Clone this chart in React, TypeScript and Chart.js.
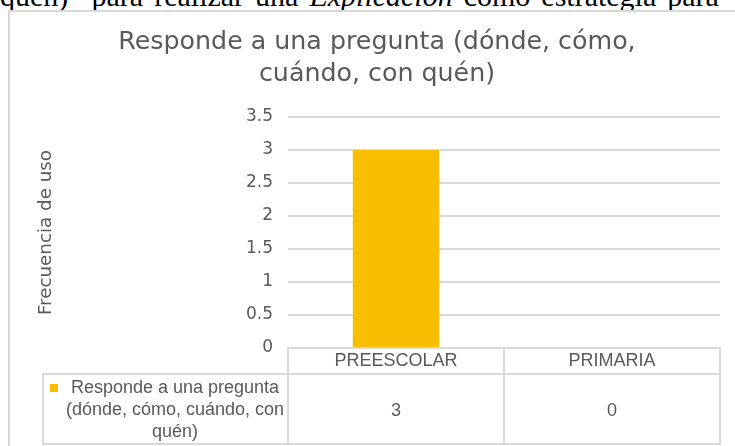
import React, { useEffect, useRef } from 'react';
import { Chart, registerables } from 'chart.js';

Chart.register(...registerables);

// ---- data ----
const categories = ['PREESCOLAR', 'PRIMARIA'];
const seriesName = 'Responde a una pregunta (dónde, cómo, cuándo, con quén)';
const seriesLegendLines = ['Responde a una pregunta', '(dónde, cómo, cuándo, con', 'quén)'];
const values = [3, 0];
const titleLines = ['Responde a una pregunta (dónde, cómo,', 'cuándo, con quén)'];
const yAxisTitle = 'Frecuencia de uso';
const yMin = 0;
const yMax = 3.5;
const yStep = 0.5;

// ---- styles ----
const barColor = '#F9BE00';
const textColor = '#595959';
const gridColor = '#D9D9D9';
const sansFont = '"DejaVu Sans", sans-serif';
const tableFont = '"Liberation Sans", Arial, sans-serif';

const framePlugin = {
  id: 'frame',
  beforeDraw(chart: any) {
    const ctx = chart.ctx;
    ctx.save();
    ctx.fillStyle = '#ffffff';
    ctx.fillRect(8, 10, chart.width, chart.height);
    ctx.fillStyle = gridColor;
    ctx.fillRect(8, 10, chart.width, 2);
    ctx.fillRect(8, 10, 2, chart.height);
    ctx.restore();
  },
};

const tablePlugin = {
  id: 'dataTable',
  afterDraw(chart: any) {
    const { ctx, chartArea } = chart;
    const xs = chart.scales.x;
    const n = categories.length;
    const bounds: number[] = [chartArea.left];
    for (let i = 0; i < n - 1; i++) {
      bounds.push((xs.getPixelForValue(i) + xs.getPixelForValue(i + 1)) / 2);
    }
    bounds.push(chartArea.right);
    const top = chartArea.bottom;
    const headerBottom = top + 26;
    const tableBottom = top + 96;
    const legendLeft = 43;

    ctx.save();
    ctx.strokeStyle = gridColor;
    ctx.lineWidth = 2;
    ctx.lineCap = 'square';
    ctx.beginPath();
    bounds.forEach((b) => {
      ctx.moveTo(b, top);
      ctx.lineTo(b, tableBottom);
    });
    ctx.moveTo(legendLeft, headerBottom);
    ctx.lineTo(legendLeft, tableBottom);
    ctx.moveTo(legendLeft, headerBottom);
    ctx.lineTo(chartArea.right, headerBottom);
    ctx.moveTo(legendLeft, tableBottom);
    ctx.lineTo(chartArea.right, tableBottom);
    ctx.stroke();

    ctx.fillStyle = textColor;
    ctx.font = '18px ' + tableFont;
    ctx.textAlign = 'center';
    ctx.textBaseline = 'middle';
    categories.forEach((c, i) => {
      const cx = xs.getPixelForValue(i);
      ctx.fillText(c, cx, top + 13);
      ctx.fillText(String(values[i]), cx, headerBottom + 37);
    });
    const legendCx = 175;
    seriesLegendLines.forEach((line, i) => {
      ctx.fillText(line, legendCx, headerBottom + 14 + i * 22);
    });
    ctx.fillStyle = barColor;
    ctx.fillRect(50, headerBottom + 10, 8, 8);
    ctx.restore();
  },
};

export default function App() {
  const canvasRef = useRef<HTMLCanvasElement | null>(null);

  useEffect(() => {
    const canvas = canvasRef.current;
    if (!canvas) return;
    const chart = new Chart(canvas, {
      type: 'bar',
      data: {
        labels: categories,
        datasets: [
          {
            label: seriesName,
            data: values,
            backgroundColor: barColor,
            borderWidth: 0,
            barPercentage: 0.8,
            categoryPercentage: 0.5,
          },
        ],
      },
      options: {
        responsive: false,
        animation: false,
        devicePixelRatio: 1,
        layout: { padding: { left: 34, right: 15, top: 0, bottom: 0 } },
        plugins: {
          legend: { display: false },
          tooltip: { enabled: false },
          title: {
            display: true,
            text: titleLines,
            color: textColor,
            font: { family: sansFont, size: 25.3, weight: 'normal', lineHeight: 32 / 25.3 },
            padding: { top: 26.7, bottom: 26.3 },
          },
        },
        scales: {
          x: {
            ticks: { display: false },
            grid: { display: false },
            border: { display: false },
            afterFit: (s: any) => {
              s.height = 98;
            },
          },
          y: {
            min: yMin,
            max: yMax,
            ticks: {
              stepSize: yStep,
              padding: 15,
              color: textColor,
              font: { family: sansFont, size: 17 },
              callback: (v: any) => String(Number(v)),
            },
            grid: { color: gridColor, lineWidth: 2, drawTicks: false },
            border: { display: false },
            title: {
              display: true,
              text: yAxisTitle,
              color: textColor,
              font: { family: sansFont, size: 18.3, lineHeight: 1.2 },
              padding: { top: 1, bottom: 0 },
            },
            afterFit: (s: any) => {
              s.width = 254;
            },
          },
        },
      } as any,
      plugins: [framePlugin, tablePlugin],
    });
    return () => chart.destroy();
  }, []);

  return (
    <div
      style={{
        position: 'absolute',
        left: 0,
        top: 0,
        width: 735,
        height: 446,
        overflow: 'hidden',
        background: '#ffffff',
      }}
    >
      <div
        style={{
          position: 'absolute',
          left: 0,
          top: -19,
          whiteSpace: 'nowrap',
          fontFamily: '"Liberation Serif", "Times New Roman", serif',
          fontSize: 30,
          lineHeight: '30px',
          wordSpacing: '3.5px',
          color: '#000000',
        }}
      >
        quén)" para realizar una <i>Explicación</i> como estrategia para
      </div>
      <canvas
        ref={canvasRef}
        width={735}
        height={446}
        style={{ position: 'absolute', left: 0, top: 0, width: 735, height: 446 }}
      />
    </div>
  );
}
